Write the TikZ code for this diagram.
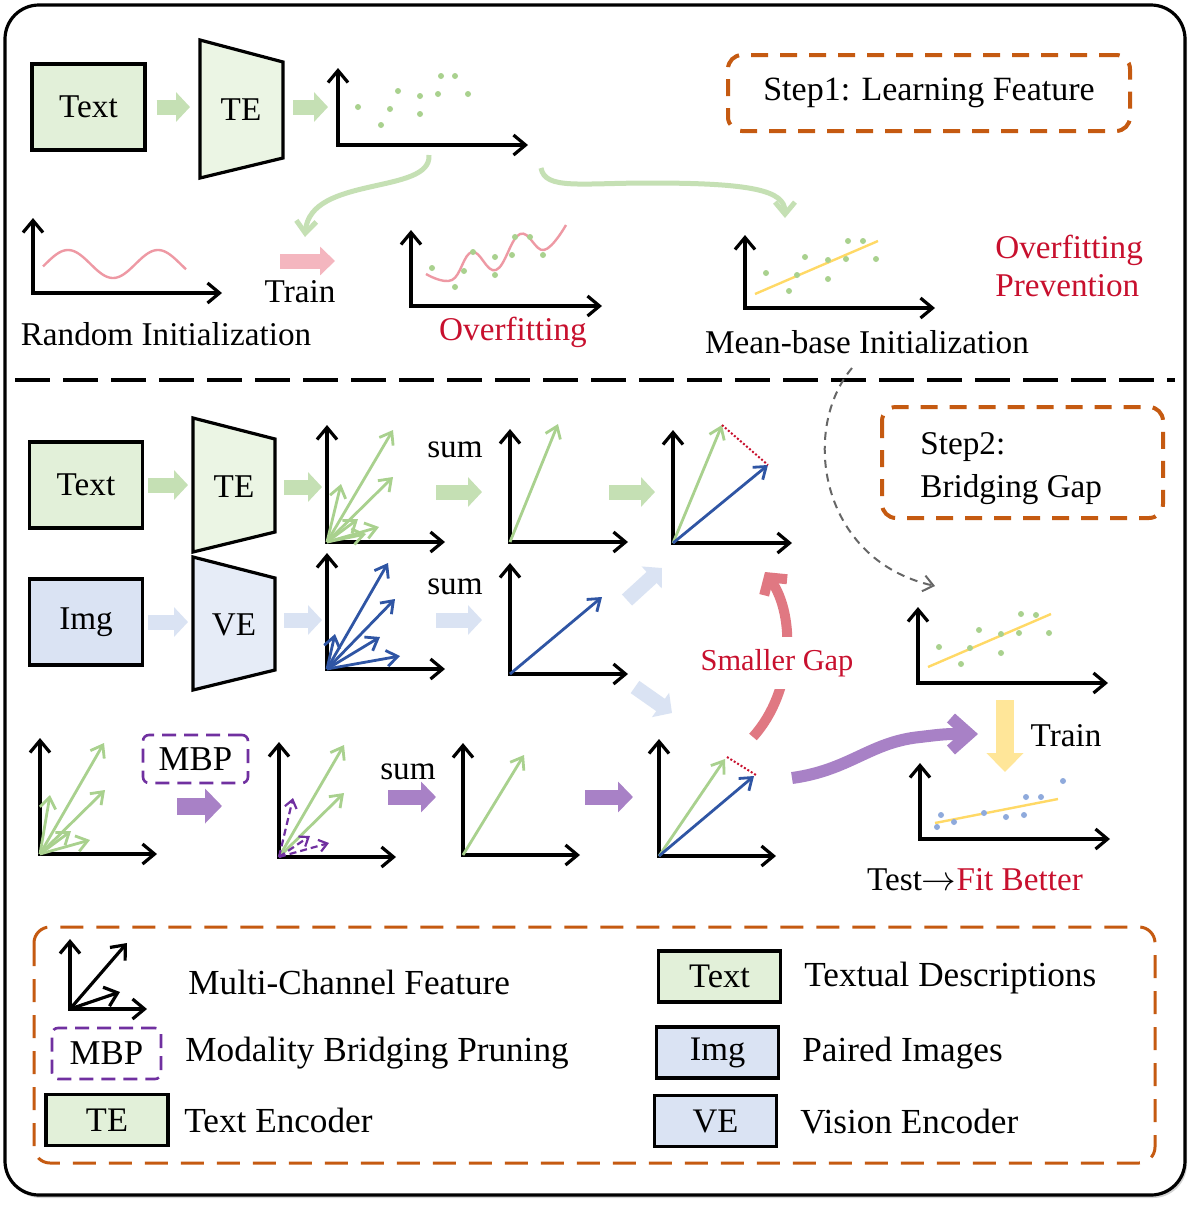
\documentclass[tikz,border=0pt]{standalone}
\usepackage{fontspec}
\setmainfont{Liberation Serif}
\usetikzlibrary{arrows.meta,positioning,shadows}

\definecolor{boxgreen}{HTML}{E2F0D9}
\definecolor{tegreen}{HTML}{EBF5E4}
\definecolor{arrgreen}{HTML}{C5E0B4}
\definecolor{vecgreen}{HTML}{A9D18E}
\definecolor{boxblue}{HTML}{DAE3F3}
\definecolor{veblue}{HTML}{E6ECF7}
\definecolor{vecblue}{HTML}{2F55A4}
\definecolor{dotblue}{HTML}{8FAADC}
\definecolor{trainpink}{HTML}{F4B6BF}
\definecolor{curvepink}{HTML}{EE99A4}
\definecolor{gappink}{HTML}{E07882}
\definecolor{lineyellow}{HTML}{FFD966}
\definecolor{arryellow}{HTML}{FFE699}
\definecolor{mbppurple}{HTML}{7030A0}
\definecolor{arrpurple}{HTML}{A881C6}
\definecolor{steporange}{HTML}{C55A11}
\definecolor{textred}{HTML}{C8102E}
\definecolor{hintgray}{HTML}{666666}

\begin{document}
\begin{tikzpicture}[x=0.5pt,y=-0.5pt,
  every node/.style={font=\fontsize{16.6}{19}\selectfont,inner sep=0pt},
  box/.style={draw,line width=1.6pt,minimum width=56.5pt,minimum height=43pt},
  keybox/.style={draw,line width=1.6pt,minimum width=61pt,minimum height=25.5pt,font=\fontsize{17.2}{20}\selectfont},
  keytext/.style={anchor=west,font=\fontsize{17.6}{20}\selectfont},
  enc/.style={draw,line width=1.6pt,line join=miter},
  axis/.style={line width=1.6pt,{Straight Barb[length=6pt,width=10pt]}-{Straight Barb[length=6pt,width=10pt]}},
  gvec/.style={vecgreen,line width=1.4pt,-{Straight Barb[length=5.5pt,width=8pt]}},
  bvec/.style={vecblue,line width=1.4pt,-{Straight Barb[length=5.5pt,width=8pt]}},
  pvec/.style={mbppurple,line width=1.1pt,dash pattern=on 3.5pt off 2pt,-{Straight Barb[length=4pt,width=6pt]}},
  gapline/.style={textred,line width=1pt,dash pattern=on 1pt off 1pt},
  fat/.style={line width=7.5pt,-{Triangle[length=7pt,width=14.5pt]}},
  pfat/.style={arrpurple,line width=8.5pt,-{Triangle[length=8.5pt,width=17pt]}},
  dot/.style={fill=vecgreen},
  mbpbox/.style={draw=mbppurple,line width=1.3pt,dash pattern=on 7pt off 4pt,rounded corners=3pt,minimum width=52.5pt,minimum height=24pt,font=\fontsize{17.4}{20}\selectfont},
  stepbox/.style={draw=steporange,line width=2pt,dash pattern=on 8.5pt off 6pt,rounded corners=7pt}
]
\useasboundingbox (0,0) rectangle (1195,1206);
\draw[line width=1.6pt,rounded corners=17pt,fill=white,drop shadow={shadow xshift=1pt,shadow yshift=-1.5pt,opacity=0.35}] (5,5) rectangle (1185,1195);

% step 1
\node[box,fill=boxgreen] (txt1) at (88.5,107) {Text};
\draw[enc,fill=tegreen] (200,40) -- (283,62) -- (283,158) -- (200,178) -- cycle;
\node (te1) at (241,110) {TE};
\coordinate (te1w) at (200,107);
\coordinate (te1e) at (283,107);
\coordinate (feat1) at (338,107);
\draw[fat,arrgreen,shorten <=5pt,shorten >=5pt] (txt1.east) -- (te1w);
\draw[fat,arrgreen,shorten <=5pt,shorten >=5pt] (te1e) -- (feat1);
\draw[axis] (338,68) |- (528,145);
\foreach \x/\y in {358/107,381/125,390/109,398/91,420/96,420/114,438/94,441/76,455/76,468/94}
  \fill[dot] (\x,\y) circle (1.5pt);
\draw[arrgreen,line width=2.5pt,-{Straight Barb[length=6pt,width=10pt]}] (429,155) .. controls (432,195) and (310,175) .. (305,237);
\draw[arrgreen,line width=2.5pt,-{Straight Barb[length=6pt,width=10pt]}] (541,168) .. controls (545,190) and (580,183) .. (650,183) .. controls (750,183) and (785,190) .. (785,218);

\draw[axis] (33,218) |- (222,293);
\draw[curvepink,line width=1.2pt] plot[domain=43:186,samples=80] (\x,{264-14*sin(4*(\x-43)-10)});
\node (rand) at (166,334) {Random Initialization};
\coordinate (traina) at (280,261);
\coordinate (trainb) at (335,261);
\draw[trainpink,line width=7.5pt,-{Triangle[length=7.5pt,width=14pt]}] (traina) -- (trainb);
\node (train1) at (300,292) {Train};

\draw[axis] (411,230) |- (602,306);
\draw[curvepink,line width=1.2pt] plot[smooth,tension=0.7] coordinates {(426,274) (452,280) (472,252) (496,270) (520,234) (544,250) (566,225)};
\foreach \x/\y in {432/268,455/287,464/271,473/252,495/257,495/275,512/255,515/237,530/237,543/255}
  \fill[dot] (\x,\y) circle (1.5pt);
\node[text=textred] (overfit) at (513,332) {Overfitting};

\draw[axis] (745,235) |- (935,308);
\draw[lineyellow,line width=1.2pt] (755,294) -- (878,241);
\foreach \x/\y in {766/273,789/291,797/275,805/257,828/260,828/279,846/259,848/241,863/241,876/259}
  \fill[dot] (\x,\y) circle (1.5pt);
\node (meanbase) at (867,342) {Mean-base Initialization};
\node[anchor=west,align=left,text=textred] (prevent) at (995,266) {Overfitting\\Prevention};
\node[stepbox,minimum width=201pt,minimum height=38pt,font=\fontsize{17}{20}\selectfont] (step1) at (929,93) {Step1: Learning Feature};

\draw[line width=2pt,dash pattern=on 17.5pt off 6.5pt] (15,380) -- (1175,380);

% step 2
\node[box,fill=boxgreen] (txt2) at (86,485) {Text};
\draw[enc,fill=tegreen] (193,418) -- (275,439) -- (275,532) -- (193,552) -- cycle;
\node (te2) at (234,487) {TE};
\coordinate (te2w) at (193,485);
\coordinate (te2e) at (275,487);
\coordinate (feat2) at (327,487);
\draw[fat,arrgreen,shorten <=2pt,shorten >=2.5pt] (txt2.east) -- (te2w);
\draw[fat,arrgreen,shorten <=4.5pt,shorten >=2.5pt] (te2e) -- (feat2);
\draw[axis] (327,425) |- (445,542);
\foreach \x/\y in {393/430,393/477,341/484,358/519,379/527,366/534}
  \draw[gvec] (327,542) -- (\x,\y);

\node[box,fill=boxblue] (img) at (86,622) {Img};
\draw[enc,fill=veblue] (193,557) -- (275,578) -- (275,670) -- (193,690) -- cycle;
\node (ve) at (234,625) {VE};
\coordinate (vew) at (193,622);
\coordinate (vee) at (275,620);
\coordinate (feat3) at (327,620);
\draw[fat,boxblue,shorten <=2pt,shorten >=2.5pt] (img.east) -- (vew);
\draw[fat,boxblue,shorten <=4.5pt,shorten >=2.5pt] (vee) -- (feat3);
\draw[axis] (327,553) |- (445,669);
\foreach \x/\y in {388/563,395/599,380/637,335/634,400/656}
  \draw[bvec] (327,669) -- (\x,\y);

\node (sum1) at (455,450) {sum};
\node (sum2) at (455,587) {sum};
\coordinate (s1a) at (436,492);
\coordinate (s1b) at (482,492);
\coordinate (s2a) at (436,620);
\coordinate (s2b) at (482,620);
\draw[fat,arrgreen] (s1a) -- (s1b);
\draw[fat,boxblue] (s2a) -- (s2b);

\draw[axis] (510,429) |- (628,542);
\draw[gvec] (510,542) -- (558,424);
\draw[axis] (510,563) |- (628,674);
\draw[bvec] (510,674) -- (602,597);

\coordinate (s3a) at (609,492);
\coordinate (s3b) at (655,492);
\draw[fat,arrgreen] (s3a) -- (s3b);
\coordinate (d1a) at (627,600);
\coordinate (d1b) at (662,568);
\coordinate (d2a) at (635,687);
\coordinate (d2b) at (672,713);
\draw[fat,boxblue] (d1a) -- (d1b);
\draw[fat,boxblue] (d2a) -- (d2b);

\draw[axis] (673,430) |- (792,543);
\draw[gvec] (673,543) -- (722,425);
\draw[bvec] (673,543) -- (768,465);
\draw[gapline] (722,425) -- (768,465);

\coordinate (gapa) at (753,737);
\coordinate (gapb) at (765,572);
\draw[gappink,line width=5pt,-{Straight Barb[length=6pt,width=14pt]}] (gapa) .. controls (795,690) and (795,615) .. (gapb);
\node[fill=white,inner xsep=1pt,inner ysep=6pt,text=textred,font=\fontsize{15.2}{18}\selectfont] (gaplbl) at (777,663) {Smaller Gap};

\draw[stepbox] (882,407) rectangle (1163,518);
\node[anchor=west,align=left,font=\fontsize{16.6}{21.5}\selectfont] (step2) at (920,469) {Step2:\\Bridging Gap};

\coordinate (hint) at (852,368);
\coordinate (hintend) at (935,586);
\draw[hintgray,line width=1pt,dash pattern=on 4pt off 3pt,-{Straight Barb[length=5pt,width=8pt]}] (hint) .. controls (800,430) and (820,560) .. (hintend);

\draw[axis] (918,607) |- (1108,683);
\draw[lineyellow,line width=1.2pt] (928,667) -- (1051,614);
\foreach \x/\y in {939/647,961/664,970/648,979/630,1001/634,1001/653,1019/633,1021/614,1036/615,1049/633}
  \fill[dot] (\x,\y) circle (1.5pt);
\coordinate (ya) at (1005,700);
\coordinate (yb) at (1005,772);
\draw[arryellow,line width=9pt,-{Triangle[length=9.5pt,width=18pt]}] (ya) -- (yb);
\node (train2) at (1066,736) {Train};
\draw[axis] (920,763) |- (1110,839);
\draw[lineyellow,line width=1.2pt] (935,823) -- (1058,799);
\foreach \x/\y in {937/827,941/815,954/822,984/813,1006/817,1024/815,1026/797,1041/797,1063/781}
  \fill[dotblue] (\x,\y) circle (1.5pt);
\node (test) at (975,880) {Test$\rightarrow$\textcolor{textred}{Fit Better}};

% pruning row
\draw[axis] (40,738) |- (157,854);
\foreach \x/\y in {104/743,105/790,50/795,71/831,90/840}
  \draw[gvec] (40,854) -- (\x,\y);
\node[mbpbox] (mbp) at (195.5,759) {MBP};
\coordinate (p1a) at (177,806);
\coordinate (p1b) at (222,806);
\draw[pfat] (p1a) -- (p1b);

\draw[axis] (279,742) |- (396,857);
\draw[gvec] (279,857) -- (344,745);
\draw[gvec] (279,857) -- (344,793);
\foreach \x/\y in {293/798,310/836,329/843}
  \draw[pvec] (279,857) -- (\x,\y);
\node (sum3) at (408,772) {sum};
\coordinate (p2a) at (388,797);
\coordinate (p2b) at (436,797);
\draw[pfat,line width=7.5pt,-{Triangle[length=7.5pt,width=15pt]}] (p2a) -- (p2b);

\draw[axis] (463,743) |- (580,855);
\draw[gvec] (463,855) -- (524,755);
\coordinate (p3a) at (585,797);
\coordinate (p3b) at (633,797);
\draw[pfat,line width=7.5pt,-{Triangle[length=7.5pt,width=15pt]}] (p3a) -- (p3b);

\draw[axis] (659,739) |- (776,856);
\draw[gvec] (659,856) -- (725,759);
\draw[bvec] (659,856) -- (754,776);
\draw[gapline] (727,757) -- (756,775);

\coordinate (pc0) at (792,778);
\coordinate (pc1) at (978,734);
\draw[arrpurple,line width=6pt,-{Straight Barb[length=9pt,width=16pt]}] (pc0) .. controls (850,770) and (870,742) .. (920,737) .. controls (945,734) .. (pc1);

% legend
\draw[draw=steporange,line width=1.5pt,dash pattern=on 11.5pt off 6.5pt,rounded corners=8pt] (34,927) rectangle (1155,1163);
\draw[axis] (70,939) |- (147,1009);
\draw[line width=1.6pt,-{Straight Barb[length=6pt,width=10pt]}] (70,1009) -- (127,943);
\draw[line width=1.6pt,-{Straight Barb[length=6pt,width=10pt]}] (70,1009) -- (120,992);
\node[keytext] (kfeat) at (188,982) {Multi-Channel Feature};
\node[mbpbox,minimum width=54.5pt,minimum height=25.5pt] (kmbp) at (106.5,1053.5) {MBP};
\node[keytext] (kmbpl) at (185,1053) {Modality Bridging Pruning};
\node[keybox,fill=boxgreen] (kte) at (107,1120) {TE};
\node[keytext] (ktel) at (184,1120) {Text Encoder};
\node[keybox,fill=boxgreen] (ktxt) at (719.5,976.5) {Text};
\node[keytext] (ktxtl) at (804,978) {Textual Descriptions};
\node[keybox,fill=boxblue] (kimg) at (717.5,1052.5) {Img};
\node[keytext] (kimgl) at (802,1053) {Paired Images};
\node[keybox,fill=boxblue] (kve) at (715.5,1121) {VE};
\node[keytext] (kvel) at (800,1122) {Vision Encoder};
\end{tikzpicture}
\end{document}
